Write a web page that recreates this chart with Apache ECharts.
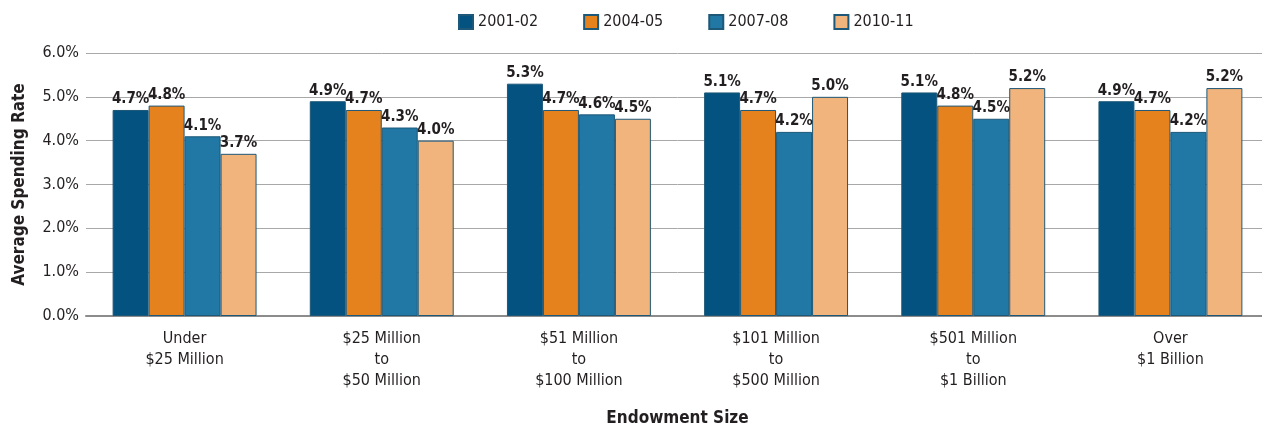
<!DOCTYPE html>
<html>
<head>
<meta charset="utf-8">
<script src="https://cdn.jsdelivr.net/npm/echarts@6/dist/echarts.min.js"></script>
<style>
  html, body { margin: 0; padding: 0; background: #fff; overflow: hidden; }
  #chart { width: 1276px; height: 432px; }
</style>
</head>
<body>
<div id="chart"></div>
<script>
var categories = ['Under\n$25 Million', '$25 Million\nto\n$50 Million', '$51 Million\nto\n$100 Million',
  '$101 Million\nto\n$500 Million', '$501 Million\nto\n$1 Billion', 'Over\n$1 Billion']
var seriesNames = ['2001-02', '2004-05', '2007-08', '2010-11']
var s2001 = [4.7, 4.9, 5.3, 5.1, 5.1, 4.9]
var s2004 = [4.8, 4.7, 4.7, 4.7, 4.8, 4.7]
var s2007 = [4.1, 4.3, 4.6, 4.2, 4.5, 4.2]
var s2010 = [3.7, 4.0, 4.5, 5.0, 5.2, 5.2]
var colors = ['#03527f', '#e6821e', '#2178a5', '#f1b47c']

var font = '"Liberation Sans Narrow", "DejaVu Sans Condensed", sans-serif'
var chart = echarts.init(document.getElementById('chart'))

function bar(name, data, i) {
  return {
    name: name,
    type: 'bar',
    data: data,
    barGap: 0,
    barCategoryGap: '27%',
    itemStyle: { color: colors[i], borderColor: '#1d5878', borderWidth: 1 },
    label: {
      show: true,
      position: 'top',
      distance: 3,
      formatter: function (p) { return p.value.toFixed(1) + '%' },
      fontFamily: font,
      fontWeight: 'bold',
      fontSize: 15,
      color: '#231f20'
    }
  }
}

chart.setOption({
  animation: false,
  textStyle: { fontFamily: font },
  legend: {
    top: 9,
    left: 453,
    icon: 'rect',
    itemWidth: 14,
    itemHeight: 14,
    itemGap: 45,
    textStyle: { fontFamily: font, fontSize: 16, color: '#231f20' },
    data: seriesNames
  },
  // category band is a bit wider than the visible area, so the div runs past the right edge
  grid: { left: 86, width: 1183, top: 53, bottom: 113 },
  xAxis: {
    type: 'category',
    data: categories,
    name: 'Endowment Size',
    nameLocation: 'middle',
    nameGap: 94,
    nameTextStyle: { fontFamily: font, fontWeight: 'bold', fontSize: 17, color: '#231f20' },
    axisTick: { show: false },
    axisLine: { lineStyle: { color: '#8c8c8c', width: 2 } },
    axisLabel: { fontFamily: font, fontSize: 16, color: '#231f20', lineHeight: 21, margin: 12 }
  },
  yAxis: {
    type: 'value',
    min: 0,
    max: 6,
    interval: 1,
    name: 'Average Spending Rate',
    nameLocation: 'middle',
    nameGap: 58,
    nameTextStyle: { fontFamily: font, fontWeight: 'bold', fontSize: 17, color: '#231f20' },
    axisLabel: {
      fontFamily: font, fontSize: 16, color: '#231f20', margin: 7,
      formatter: function (v) { return v.toFixed(1) + '%' }
    },
    splitLine: { lineStyle: { color: '#a8a8a8', width: 1 } }
  },
  series: [
    bar(seriesNames[0], s2001, 0),
    bar(seriesNames[1], s2004, 1),
    bar(seriesNames[2], s2007, 2),
    bar(seriesNames[3], s2010, 3)
  ]
})
</script>
</body>
</html>
